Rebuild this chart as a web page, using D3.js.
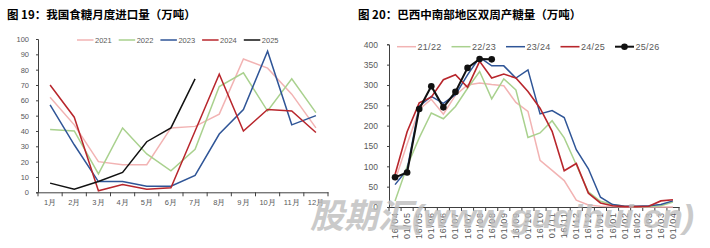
<!DOCTYPE html>
<html>
<head>
<meta charset="utf-8">
<script src="https://cdn.jsdelivr.net/npm/d3@7"></script>
<style>
  body { margin: 0; background: #fff; }
  svg { display: block; }
  .tick text { fill: #595959; }
</style>
</head>
<body>
<div id="chart"></div>
<script>
// 图19 data: monthly sugar imports (万吨)
var months = ["1月", "2月", "3月", "4月", "5月", "6月", "7月", "8月", "9月", "10月", "11月", "12月"];
var imp2021 = [62, 44, 20, 18, 18, 42, 43, 51, 87, 81, 64, 42];
var imp2022 = [41, 40, 12, 42, 25, 14, 28, 69, 78, 53, 74, 52];
var imp2023 = [57, 31, 7, 7, 4, 4, 11, 38, 54, 92, 44, 50];
var imp2024 = [70, 49, 1, 5, 2, 3, 40, 77, 40, 54, 53, 39];
var imp2025 = [6, 2, 7, 13, 33, 42, 74];
var leftTicks = [0, 10, 20, 30, 40, 50, 60, 70, 80, 90, 100];

// 图20 data: Brazil centre-south fortnightly sugar output (万吨)
var periods = ["16/04", "01/05", "16/05", "01/06", "16/06", "01/07", "16/07", "01/08", "16/08", "01/09", "16/09", "01/10",
               "16/10", "01/11", "16/11", "01/12", "16/12", "01/01", "16/01", "01/02", "16/02", "01/03", "16/03", "01/04"];
var s2122 = [65, 155, 240, 265, 228, 275, 300, 305, 301, 298, 257, 235, 115, 90, 65, 17, 5, 2, 1, 0, 0, 0, 0, 0];
var s2223 = [15, 100, 170, 231, 217, 247, 292, 333, 266, 315, 288, 171, 182, 212, 170, 104, 37, 14, 6, 2, 1, 1, 3, 12];
var s2324 = [55, 92, 248, 272, 255, 276, 325, 368, 347, 347, 317, 337, 229, 237, 220, 141, 94, 24, 6, 2, 2, 3, 6, 15];
var s2425 = [80, 185, 256, 270, 313, 325, 294, 358, 317, 327, 317, 284, 243, 186, 89, 107, 34, 10, 3, 1, 1, 2, 15, 18];
var s2526 = [73, 85, 241, 297, 245, 283, 342, 364, 363];
var rightTicks = [0, 50, 100, 150, 200, 250, 300, 350, 400];

var pink = '#f2b3b3', green = '#a9d18e', blue = '#2f5597', red = '#b8262c', black = '#111';
var fontLatin = '"Liberation Sans", "Noto Sans CJK SC", sans-serif';

var svg = d3.select('#chart').append('svg').attr('width', 710).attr('height', 248)
    .style('font-family', fontLatin);

// titles
svg.append('text').attr('x', 7).attr('y', 18.5).attr('font-size', 11.5).attr('font-weight', 'bold')
    .style('font-family', '"Noto Sans CJK SC", sans-serif').text('图 19：我国食糖月度进口量（万吨）');
svg.append('text').attr('x', 358).attr('y', 18.5).attr('font-size', 11.5).attr('font-weight', 'bold')
    .style('font-family', '"Noto Sans CJK SC", sans-serif').text('图 20：巴西中南部地区双周产糖量（万吨）');

function boundaryTicks(g, xs, y0) {
    var edges = xs.domain().map(function(d) { return xs(d); }).concat([xs.range()[1]]);
    g.selectAll('.bt').data(edges).enter().append('line').attr('class', 'bt')
        .attr('x1', function(d) { return d; }).attr('x2', function(d) { return d; })
        .attr('y1', y0).attr('y2', y0 + 4).attr('stroke', '#404040');
}

// ---------- left chart ----------
var xL = d3.scaleBand().domain(months).range([38, 328]);
var yL = d3.scaleLinear().domain([0, 100]).range([192.3, 39]);
var gL = svg.append('g');

gL.append('g').attr('transform', 'translate(38,0)')
    .call(d3.axisLeft(yL).tickValues(leftTicks).tickSize(2).tickPadding(7))
    .call(function(g) { g.selectAll('text').attr('font-size', 7.5); g.selectAll('line,path').attr('stroke', '#404040'); });
gL.append('g').attr('transform', 'translate(0,192.3)')
    .call(d3.axisBottom(xL).tickSize(0).tickPadding(7))
    .call(function(g) { g.selectAll('text').attr('font-size', 7.5); g.select('path').attr('stroke', '#404040'); });
boundaryTicks(gL, xL, 192.3);

var lineL = d3.line().x(function(d, i) { return xL(months[i]) + xL.bandwidth() / 2; }).y(function(d) { return yL(d); });
var seriesL = [
    { name: '2021', values: imp2021, color: pink },
    { name: '2022', values: imp2022, color: green },
    { name: '2023', values: imp2023, color: blue },
    { name: '2024', values: imp2024, color: red },
    { name: '2025', values: imp2025, color: black }
];
gL.selectAll('.ln').data(seriesL).enter().append('path').attr('class', 'ln')
    .attr('d', function(s) { return lineL(s.values); })
    .attr('fill', 'none').attr('stroke', function(s) { return s.color; }).attr('stroke-width', 1.5);

var legL = gL.selectAll('.lg').data(seriesL).enter().append('g')
    .attr('transform', function(s, i) { return 'translate(' + (77 + i * 41.7) + ',40)'; });
legL.append('line').attr('x1', 0).attr('x2', 16.5).attr('stroke', function(s) { return s.color; }).attr('stroke-width', 1.5);
legL.append('text').attr('x', 18).attr('y', 2.6).attr('font-size', 7.5).attr('fill', '#595959').text(function(s) { return s.name; });

// ---------- right chart ----------
var xR = d3.scaleBand().domain(periods).range([389, 679]);
var yR = d3.scaleLinear().domain([0, 400]).range([207, 44.3]);
var gR = svg.append('g');

gR.append('g').attr('transform', 'translate(389,0)')
    .call(d3.axisLeft(yR).tickValues(rightTicks).tickSize(2).tickPadding(9))
    .call(function(g) { g.selectAll('text').attr('font-size', 8.5); g.selectAll('line,path').attr('stroke', '#404040'); });
var axR = gR.append('g').attr('transform', 'translate(0,207)')
    .call(d3.axisBottom(xR).tickSize(0))
    .call(function(g) { g.select('path').attr('stroke', '#404040'); });
axR.selectAll('.tick text').attr('font-size', 9).attr('letter-spacing', 0.9)
    .attr('text-anchor', 'end').attr('dy', null).attr('y', 0)
    .attr('transform', 'translate(3,5) rotate(-90)');
boundaryTicks(gR, xR, 207);

var lineR = d3.line().x(function(d, i) { return xR(periods[i]) + xR.bandwidth() / 2; }).y(function(d) { return yR(d); });
var seriesR = [
    { name: '21/22', values: s2122, color: pink, w: 1.5 },
    { name: '22/23', values: s2223, color: green, w: 1.5 },
    { name: '23/24', values: s2324, color: blue, w: 1.5 },
    { name: '24/25', values: s2425, color: red, w: 1.6 },
    { name: '25/26', values: s2526, color: black, w: 2, dots: true }
];
gR.selectAll('.ln').data(seriesR).enter().append('path').attr('class', 'ln')
    .attr('d', function(s) { return lineR(s.values); })
    .attr('fill', 'none').attr('stroke', function(s) { return s.color; }).attr('stroke-width', function(s) { return s.w; });
gR.selectAll('.dot').data(s2526).enter().append('circle').attr('class', 'dot')
    .attr('cx', function(d, i) { return xR(periods[i]) + xR.bandwidth() / 2; })
    .attr('cy', function(d) { return yR(d); }).attr('r', 3.3).attr('fill', black);

var legR = gR.selectAll('.lg').data(seriesR).enter().append('g')
    .attr('transform', function(s, i) { return 'translate(' + (397 + i * 54.5) + ',46.7)'; });
legR.append('line').attr('x1', 0).attr('x2', 19).attr('stroke', function(s) { return s.color; }).attr('stroke-width', function(s) { return s.w; });
legR.filter(function(s) { return s.dots; }).append('circle').attr('cx', 9.5).attr('r', 3.3).attr('fill', black);
legR.append('text').attr('x', 20.5).attr('y', 3.2).attr('font-size', 9).attr('letter-spacing', 0.3)
    .attr('fill', '#595959').text(function(s) { return s.name; });

// watermark
svg.append('text').attr('x', 310).attr('y', 228).attr('font-size', 34).attr('font-weight', 'bold')
    .attr('font-style', 'italic').attr('fill', '#bdbdbd').attr('opacity', 0.8)
    .style('font-family', '"Liberation Sans", "Noto Sans CJK SC", sans-serif')
    .text('股期汇(www.guqihui.cn)');
</script>
</body>
</html>
